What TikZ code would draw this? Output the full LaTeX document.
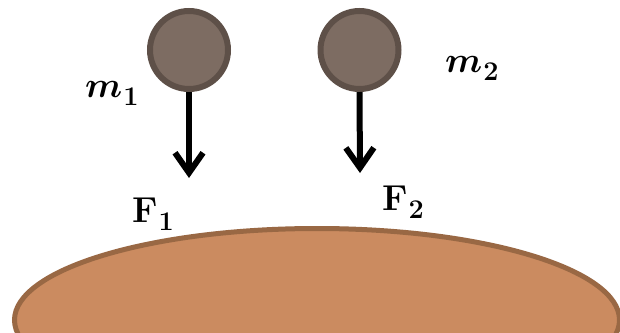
\RequirePackage{fix-cm}
\documentclass[tikz,border=0pt]{standalone}
\usepackage{amsmath,bm}
\usetikzlibrary{arrows.meta,shapes.geometric}
\definecolor{ballfill}{HTML}{7D6C62}
\definecolor{balledge}{HTML}{5E5048}
\definecolor{groundfill}{HTML}{CB8B60}
\definecolor{groundedge}{HTML}{996844}
\newcommand{\bigsub}[1]{\kern1pt\raisebox{-8pt}{\fontsize{27}{30}\selectfont\bfseries #1}}
\tikzset{
  ball/.style={circle,draw=balledge,fill=ballfill,line width=6pt,minimum size=78pt,inner sep=0pt},
  force/.style={line width=6pt,-{Straight Barb[length=20pt,width=28pt]}},
  lbl/.style={inner sep=0pt,font=\fontsize{36}{40}\selectfont}
}
\begin{document}
\begin{tikzpicture}[x=1pt,y=-1pt]
\useasboundingbox (0,0) rectangle (620,332);
\clip (0,0) rectangle (620,332);
\node[ellipse,draw=groundedge,fill=groundfill,line width=5pt,minimum width=605pt,minimum height=183pt,inner sep=0pt] (ground) at (317,320) {};
\node[ball] (b1) at (189,50) {};
\node[ball] (b2) at (359.5,50) {};
\coordinate (t1) at (189,178);
\coordinate (t2) at (360,173);
\draw[force] (b1.south) -- (t1);
\draw[force] (b2.south) -- (t2);
\node[lbl,anchor=base west] (m1) at (85,97) {$\bm{m}$\bigsub{1}};
\node[lbl,anchor=base west] (m2) at (445,72) {$\bm{m}$\bigsub{2}};
\node[lbl,anchor=base west] (F1) at (132,222) {$\mathbf{F}$\bigsub{1}};
\node[lbl,anchor=base west] (F2) at (382,210) {$\mathbf{F}$\bigsub{2}};
\end{tikzpicture}
\end{document}
